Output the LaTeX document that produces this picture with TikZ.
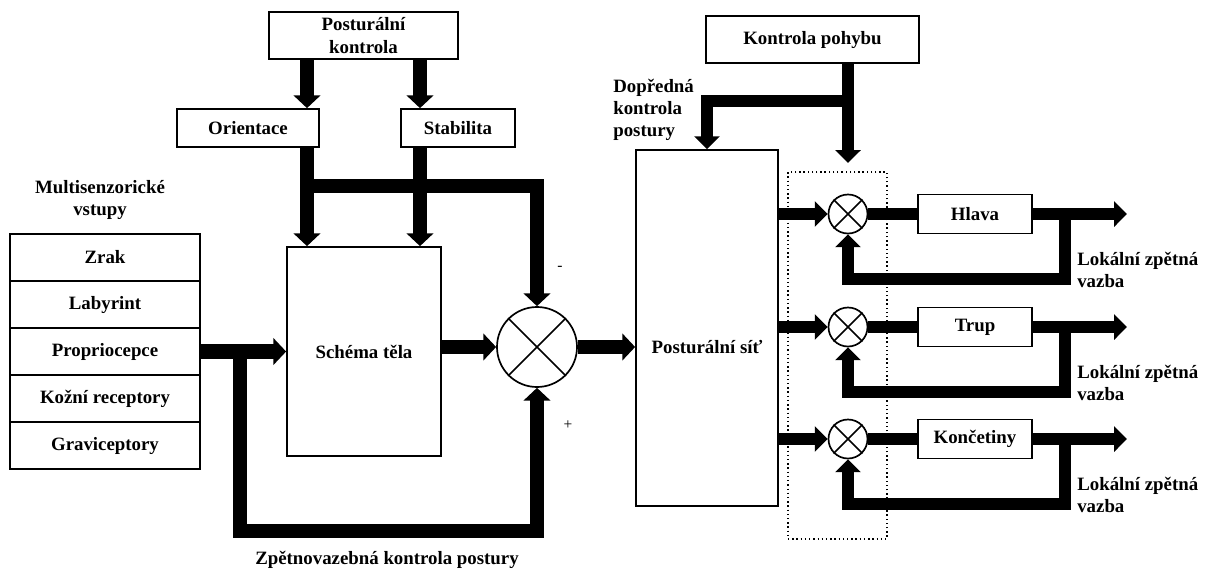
\documentclass[tikz,border=0pt]{standalone}
\usepackage{fontspec}
\setmainfont{Liberation Serif}
\usepackage{tikz}
\usetikzlibrary{positioning, arrows.meta}

\begin{document}
\begin{tikzpicture}[x=0.025cm, y=-0.025cm, node distance=1.175cm, font=\fontsize{13.4}{15.8}\selectfont\bfseries]
				\tikzstyle{box} = [rectangle, draw, line width=1.2pt, fill=white, align=center, inner sep=0pt]
				\tikzstyle{row} = [box, minimum width=4.75cm, minimum height=1.175cm, outer sep=0pt]
				\tikzstyle{sum} = [circle, draw, line width=1.2pt, fill=white, inner sep=0pt]
				\tikzstyle{note} = [align=center, inner sep=0pt]
				\tikzstyle{sign} = [inner sep=0pt, font=\fontsize{11}{13}\selectfont\mdseries]
				\tikzstyle{arrow} = [line width=0.36cm, -{Triangle[length=0.32cm, width=0.66cm]}]
				\tikzstyle{sarrow} = [line width=0.3cm, -{Triangle[length=0.32cm, width=0.62cm]}]
				\tikzstyle{bar} = [line width=0.3cm]
				
				\useasboundingbox (0,0) rectangle (1212,574);
				
				% zpetnovazebna cast
				\node [box, minimum width=4.725cm, minimum height=1.175cm] (postkontr) at (363.5,35.5) {Posturální\\kontrola};
				\node [box, minimum width=3.55cm, minimum height=0.95cm] (orient) at (248,128) {Orientace};
				\node [box, minimum width=2.85cm, minimum height=0.95cm] (stab) at (458,128) {Stabilita};
				\node [box, minimum width=3.85cm, minimum height=5.225cm] (schema) at (364,351.5) {Schéma těla};
				
				\node [note] (multi) at (100,200) {Multisenzorické\\vstupy};
				\node [row] (zrak) at (105,257.5) {Zrak};
				\node [row, below of=zrak] (labyr) {Labyrint};
				\node [row, below of=labyr] (propr) {Propriocepce};
				\node [row, below of=propr] (kozni) {Kožní receptory};
				\node [row, below of=kozni] (gravi) {Graviceptory};
				
				\node [sum, minimum size=2cm] (bigsum) at (537,347) {};
				\draw [line width=1.2pt] (bigsum.45) -- (bigsum.225) (bigsum.135) -- (bigsum.315);
				\node [sign] (minus) at (560,268) {-};
				\node [sign] (plus) at (568,425) {+};
				\node [note] (zpetna) at (387,560) {Zpětnovazebná kontrola postury};
				
				\coordinate (colA) at (307,0);
				\coordinate (colB) at (420,0);
				\coordinate (split) at (307,186);
				\coordinate (fbsplit) at (240,351.5);
				\coordinate (fbcorner) at (240,531);
				
				\draw [arrow] (postkontr.south -| colA) -- (orient.north -| colA);
				\draw [arrow] (postkontr.south -| colB) -- (stab.north -| colB);
				\draw [arrow] (orient.south -| colA) -- (schema.north -| colA);
				\draw [arrow] (stab.south -| colB) -- (schema.north -| colB);
				\draw [arrow] (split) -| (bigsum.north);
				\draw [arrow] (propr.east) -- (schema.west |- propr);
				\draw [arrow] (fbsplit) -- (fbcorner) -| (bigsum.south);
				\draw [arrow] (schema.east |- bigsum) -- (bigsum.west);
				
				% dopredna cast
				\node [box, minimum width=5.325cm, minimum height=1.175cm] (kontrpoh) at (812.5,39.5) {Kontrola pohybu};
				\node [box, minimum width=3.55cm, minimum height=8.9cm] (postsit) at (707,328) {};
				\node [note] (postsittxt) at (707,347) {Posturální síť};
				\node [note, align=left, anchor=west] (dopredna) at (613,110) {Dopředná\\kontrola\\postury};
				\node [draw, dotted, line width=1pt, minimum width=2.475cm, minimum height=9.175cm, inner sep=0pt] (motor) at (837.5,355.5) {};
				
				\draw [arrow] (bigsum.east) -- (postsit.west |- bigsum);
				
				\node [sum, minimum size=0.975cm] (sumh) at (848,214) {};
				\node [sum, minimum size=0.975cm] (sumt) at (848,327) {};
				\node [sum, minimum size=0.975cm] (sumk) at (848,439) {};
				\draw [line width=1.2pt] (sumh.45) -- (sumh.225) (sumh.135) -- (sumh.315);
				\draw [line width=1.2pt] (sumt.45) -- (sumt.225) (sumt.135) -- (sumt.315);
				\draw [line width=1.2pt] (sumk.45) -- (sumk.225) (sumk.135) -- (sumk.315);
				
				\node [box, minimum width=2.85cm, minimum height=0.975cm] (hlava) at (975,214) {Hlava};
				\node [box, minimum width=2.85cm, minimum height=0.975cm] (trup) at (975,327) {Trup};
				\node [box, minimum width=2.85cm, minimum height=0.975cm] (konc) at (975,439) {Končetiny};
				
				\node [note, align=left, anchor=west] (lokh) at (1077,270) {Lokální zpětná\\vazba};
				\node [note, align=left, anchor=west] (lokt) at (1077,383) {Lokální zpětná\\vazba};
				\node [note, align=left, anchor=west] (lokk) at (1077,495) {Lokální zpětná\\vazba};
				
				\coordinate (kpsplit) at (848,101);
				\coordinate (kptip) at (848,163);
				\coordinate (outh) at (1127,214);
				\coordinate (outt) at (1127,327);
				\coordinate (outk) at (1127,439);
				\coordinate (brh) at (1065,214);
				\coordinate (brt) at (1065,327);
				\coordinate (brk) at (1065,439);
				\coordinate (fbh) at (1065,279);
				\coordinate (fbt) at (1065,392);
				\coordinate (fbk) at (1065,504);
				
				\draw [sarrow] (kontrpoh.south -| kpsplit) -- (kptip);
				\draw [sarrow] (kpsplit) -| (postsit.north);
				
				\draw [sarrow] (postsit.east |- sumh) -- (sumh.west);
				\draw [sarrow] (postsit.east |- sumt) -- (sumt.west);
				\draw [sarrow] (postsit.east |- sumk) -- (sumk.west);
				\draw [bar] (sumh.east) -- (hlava.west);
				\draw [bar] (sumt.east) -- (trup.west);
				\draw [bar] (sumk.east) -- (konc.west);
				\draw [sarrow] (hlava.east) -- (outh);
				\draw [sarrow] (trup.east) -- (outt);
				\draw [sarrow] (konc.east) -- (outk);
				\draw [sarrow] (brh) -- (fbh) -| (sumh.south);
				\draw [sarrow] (brt) -- (fbt) -| (sumt.south);
				\draw [sarrow] (brk) -- (fbk) -| (sumk.south);
			\end{tikzpicture}
\end{document}
